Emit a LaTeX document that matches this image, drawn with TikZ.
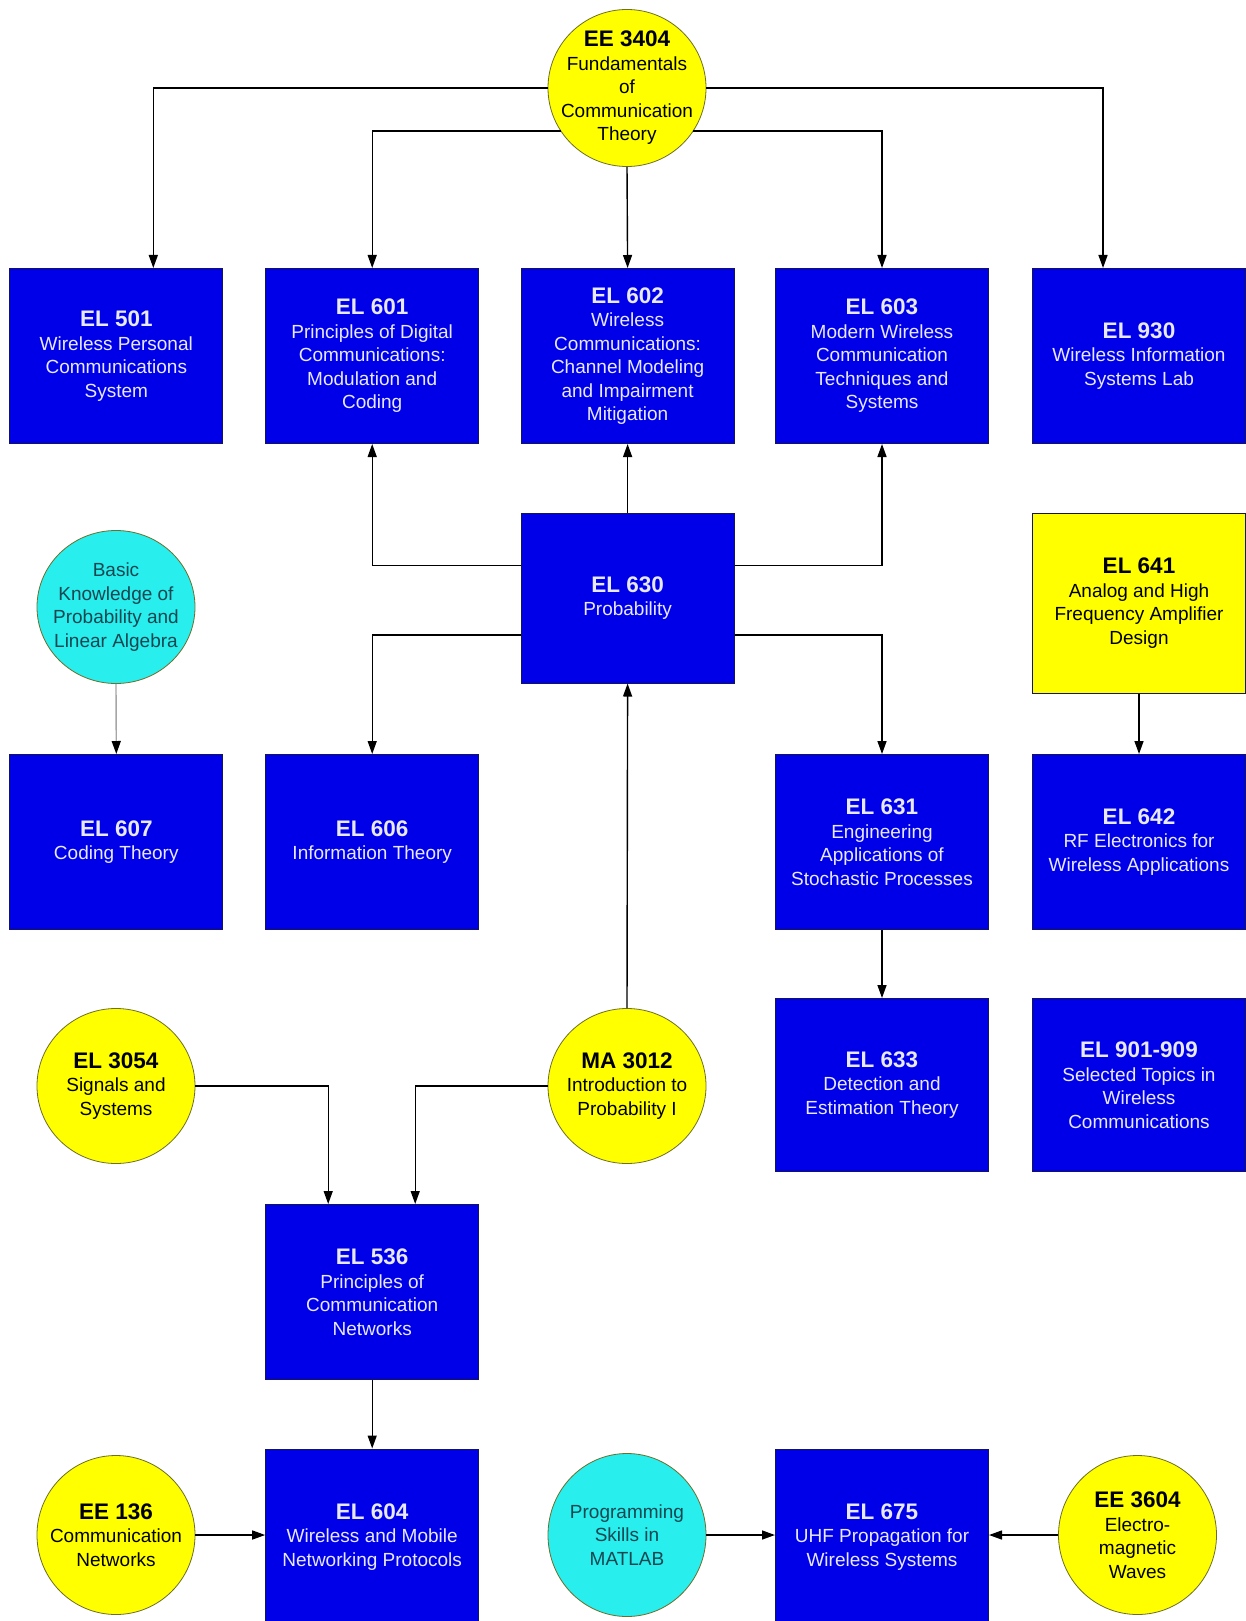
\documentclass[tikz,border=0pt]{standalone}
\usepackage{fontspec}
\setmainfont{Liberation Sans}
\usetikzlibrary{shapes.geometric,arrows.meta}
\definecolor{boxblue}{RGB}{0,0,232}
\definecolor{boxedge}{RGB}{20,20,90}
\definecolor{boxtext}{RGB}{232,232,255}
\definecolor{pyellow}{RGB}{255,255,0}
\definecolor{pcyan}{RGB}{40,238,238}
\definecolor{cyantext}{RGB}{20,70,80}
\definecolor{circedge}{RGB}{110,110,40}
\newcommand{\ttl}[1]{{\fontsize{22.5}{26}\bfseries\selectfont #1}\\[0pt]}
\tikzset{
  course/.style={draw=boxedge, line width=1pt, fill=boxblue, text=boxtext,
    minimum width=213pt, minimum height=175pt, inner sep=0pt, align=center,
    font=\fontsize{19}{23.5}\selectfont},
  ycourse/.style={course, fill=pyellow, text=black},
  prereq/.style={ellipse, draw=circedge, line width=0.8pt, fill=pyellow, text=black,
    minimum width=158pt, minimum height=157pt, inner sep=-60pt, align=center,
    font=\fontsize{19}{23.5}\selectfont},
  skill/.style={prereq, fill=pcyan, text=cyantext},
  link/.style={draw=black, line width=1.4pt, -{Triangle[length=13pt,width=9pt]}},
}
\begin{document}
\begin{tikzpicture}[x=1pt,y=-1pt]
\useasboundingbox[fill=white] (0,0) rectangle (1246,1621);

% top prerequisite
\node[prereq] (ee3404) at (627,88) {\ttl{EE 3404}Fundamentals\\of\\Communication\\Theory};

% row 1
\node[course] (el501) at (116.3,356) {\ttl{EL 501}Wireless Personal\\Communications\\System};
\node[course] (el601) at (372.2,356) {\ttl{EL 601}Principles of Digital\\Communications:\\Modulation and\\Coding};
\node[course] (el602) at (627.6,356) {\ttl{EL 602}Wireless\\Communications:\\Channel Modeling\\and Impairment\\Mitigation};
\node[course] (el603) at (882,356) {\ttl{EL 603}Modern Wireless\\Communication\\Techniques and\\Systems};
\node[course] (el930) at (1139,356) {\ttl{EL 930}Wireless Information\\Systems Lab};

% row 2
\node[skill, minimum height=153pt] (basic) at (116,607) {Basic\\Knowledge of\\Probability and\\Linear Algebra};
\node[course, minimum height=170pt] (el630) at (627.6,598) {\ttl{EL 630}Probability};
\node[ycourse, minimum height=180pt] (el641) at (1139,603) {\ttl{EL 641}Analog and High\\Frequency Amplifier\\Design};

% row 3
\node[course] (el607) at (116.3,842) {\ttl{EL 607}Coding Theory};
\node[course] (el606) at (372.2,842) {\ttl{EL 606}Information Theory};
\node[course] (el631) at (882,842) {\ttl{EL 631}Engineering\\Applications of\\Stochastic Processes};
\node[course] (el642) at (1139,842) {\ttl{EL 642}RF Electronics for\\Wireless Applications};

% row 4
\node[prereq, minimum height=155pt] (el3054) at (116,1086) {\ttl{EL 3054}Signals and\\Systems};
\node[prereq, minimum height=155pt] (ma3012) at (627,1086) {\ttl{MA 3012}Introduction to\\Probability I};
\node[course, minimum height=173pt] (el633) at (882,1085) {\ttl{EL 633}Detection and\\Estimation Theory};
\node[course, minimum height=173pt] (el901) at (1139,1085) {\ttl{EL 901-909}Selected Topics in\\Wireless\\Communications};

% row 5
\node[course] (el536) at (372.2,1292) {\ttl{EL 536}Principles of\\Communication\\Networks};

% row 6
\node[prereq, minimum height=159pt] (ee136) at (116,1535) {\ttl{EE 136}Communication\\Networks};
\node[course, minimum height=176pt] (el604) at (372.2,1537) {\ttl{EL 604}Wireless and Mobile\\Networking Protocols};
\node[skill, minimum height=163pt] (prog) at (627,1535) {Programming\\Skills in\\MATLAB};
\node[course, minimum height=176pt] (el675) at (882,1537) {\ttl{EL 675}UHF Propagation for\\Wireless Systems};
\node[prereq, minimum height=159pt] (ee3604) at (1137.5,1535) {\ttl{EE 3604}Electro-\\magnetic\\Waves};

% connectors from EE 3404
\draw[link] (ee3404.west) -| ([xshift=37pt]el501.north);
\draw[link] (ee3404.213) -| (el601.north);
\draw[link] (ee3404.south) -- (el602.north);
\draw[link] (ee3404.-33) -| (el603.north);
\draw[link] (ee3404.east) -| ([xshift=-36pt]el930.north);

% connectors from EL 630
\draw[link] (el630.north) -- (el602.south);
\draw[link] ([yshift=32.5pt]el630.west) -| (el601.south);
\draw[link] ([yshift=32.5pt]el630.east) -| (el603.south);
\draw[link] ([yshift=-37pt]el630.west) -| (el606.north);
\draw[link] ([yshift=-37pt]el630.east) -| (el631.north);

% others
\draw[link, draw=gray!70, -{Triangle[length=13pt,width=9pt,color=black]}] (basic.south) -- (el607.north);
\draw[link] (el641.south) -- (el642.north);
\draw[link] (el631.south) -- (el633.north);
\draw[link] (ma3012.north) -- (el630.south);
\draw[link] (el3054.east) -| ([xshift=-44pt]el536.north);
\draw[link] (ma3012.west) -| ([xshift=43pt]el536.north);
\draw[link] (el536.south) -- (el604.north);
\draw[link] (ee136.east) -- (ee136.east -| el604.west);
\draw[link] (prog.east) -- (prog.east -| el675.west);
\draw[link] (ee3604.west) -- (ee3604.west -| el675.east);
\end{tikzpicture}
\end{document}
